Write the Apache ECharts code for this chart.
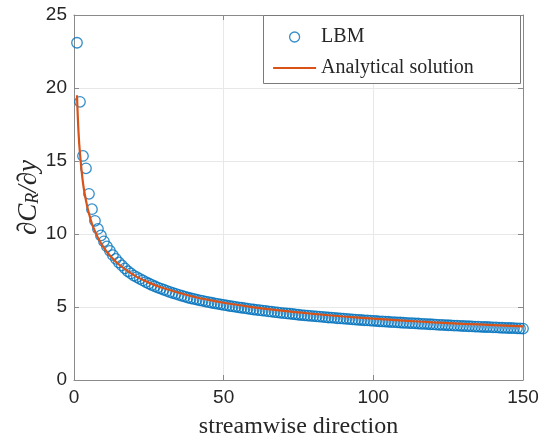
<!DOCTYPE html>
<html>
<head>
<meta charset="utf-8">
<script src="https://cdn.jsdelivr.net/npm/echarts@6/dist/echarts.min.js"></script>
<style>html,body{margin:0;padding:0;background:#fff;}#c{width:542px;height:444px;}</style>
</head>
<body>
<div id="c"></div>
<script>
// LBM samples at streamwise positions 1..150
const lbmX = Array.from({length:150}, (_, i) => i + 1);
const lbmY = [
23.1, 19.05, 15.35, 14.5, 12.75, 11.7, 10.9, 10.35, 9.9, 9.5,
9.15, 8.85, 8.55, 8.3, 8.05, 7.85, 7.65, 7.45, 7.3, 7.15,
7.05, 6.93, 6.82, 6.71, 6.61, 6.51, 6.42, 6.33, 6.26, 6.18,
6.10, 6.03, 5.96, 5.90, 5.83, 5.77, 5.71, 5.65, 5.60, 5.55,
5.51, 5.46, 5.42, 5.37, 5.33, 5.29, 5.25, 5.22, 5.18, 5.14,
5.11, 5.07, 5.04, 5.01, 4.98, 4.95, 4.92, 4.89, 4.86, 4.83,
4.80, 4.78, 4.75, 4.73, 4.70, 4.68, 4.65, 4.63, 4.60, 4.58,
4.56, 4.54, 4.52, 4.50, 4.47, 4.45, 4.43, 4.41, 4.39, 4.38,
4.36, 4.34, 4.32, 4.30, 4.28, 4.27, 4.25, 4.23, 4.22, 4.20,
4.19, 4.17, 4.15, 4.14, 4.12, 4.11, 4.09, 4.08, 4.07, 4.05,
4.04, 4.02, 4.01, 4.00, 3.99, 3.97, 3.96, 3.95, 3.94, 3.92,
3.91, 3.90, 3.89, 3.88, 3.87, 3.85, 3.84, 3.83, 3.82, 3.81,
3.79, 3.78, 3.77, 3.76, 3.75, 3.74, 3.73, 3.72, 3.71, 3.70,
3.69, 3.68, 3.67, 3.66, 3.65, 3.64, 3.63, 3.63, 3.62, 3.61,
3.60, 3.59, 3.58, 3.57, 3.56, 3.56, 3.55, 3.54, 3.53, 3.52
];
// Analytical solution
const anaX = [1, 1.5, 2, 3, 4, 5, 6, 7, 8, 10, 12, 15, 20, 25, 30, 40, 50, 60, 70, 80, 90, 100, 110, 120, 130, 140, 150];
const anaY = [19.5, 17.0, 15.5, 13.5, 12.3, 11.4, 10.7, 10.2, 9.75, 9.05, 8.52, 7.91, 7.18, 6.67, 6.28, 5.70, 5.29, 4.98, 4.73, 4.53, 4.35, 4.20, 4.07, 3.95, 3.85, 3.76, 3.67];
const xTicks = {min: 0, max: 150, interval: 50};
const yTicks = {min: 0, max: 25, interval: 5};

const blue = '#0072BD', orange = '#D95319', axisCol = '#8a8a8a', txt = '#262626';
const chart = echarts.init(document.getElementById('c'), null, {renderer: 'canvas'});
const tickFont = {fontFamily: 'Liberation Sans, Arial, sans-serif', fontSize: 19, color: txt};
function baseAxis(extra) {
  return Object.assign({
    type: 'value',
    axisLine: {show: true, onZero: false, lineStyle: {color: axisCol, width: 1}},
    axisTick: {show: true, inside: true, length: 5, lineStyle: {color: axisCol}},
    splitLine: {show: false},
    axisLabel: {show: false}
  }, extra);
}
chart.setOption({
  animation: false,
  backgroundColor: '#fff',
  grid: {left: 74, top: 15, right: 19, bottom: 61, show: false},
  xAxis: [
    baseAxis(Object.assign({}, xTicks, {
      position: 'bottom',
      splitLine: {show: true, lineStyle: {color: '#e8e8e8', width: 1}},
      axisLabel: Object.assign({show: true, margin: 8}, tickFont),
      name: 'streamwise direction', nameLocation: 'middle', nameGap: 35, nameMoveOverlap: false,
      nameTextStyle: {fontFamily: 'Liberation Serif, serif', fontSize: 24, color: txt}
    })),
    baseAxis(Object.assign({}, xTicks, {position: 'top'}))
  ],
  yAxis: [
    baseAxis(Object.assign({}, yTicks, {
      position: 'left',
      splitLine: {show: true, lineStyle: {color: '#e8e8e8', width: 1}},
      axisLabel: Object.assign({show: true, margin: 7}, tickFont),
      name: '{i|∂C}{s|R}{i|/∂y}', nameLocation: 'middle', nameGap: 32, nameRotate: 90, nameMoveOverlap: false,
      nameTextStyle: {
        color: txt,
        rich: {
          i: {fontFamily: 'Liberation Serif, serif', fontStyle: 'italic', fontSize: 27, color: txt},
          s: {fontFamily: 'Liberation Serif, serif', fontStyle: 'italic', fontSize: 18, color: txt, verticalAlign: 'bottom', padding: [9, 0, 0, 0]}
        }
      }
    })),
    baseAxis(Object.assign({}, yTicks, {position: 'right'}))
  ],
  legend: {
    left: 267, top: 22, orient: 'vertical',
    itemWidth: 43, itemHeight: 10, itemGap: 11,
    textStyle: {fontFamily: 'Liberation Serif, serif', fontSize: 20, color: txt},
    data: [
      {name: 'LBM', icon: 'circle', itemStyle: {color: 'rgba(0,0,0,0)', borderColor: blue, borderWidth: 1.3}},
      {name: 'Analytical solution', itemStyle: {opacity: 0}, lineStyle: {color: orange, width: 2.2}}
    ],
    z: 10
  },
  graphic: [{
    type: 'rect', left: 263, top: 15, z: 5,
    shape: {width: 257, height: 68},
    style: {fill: '#fff', stroke: '#7a7a7a', lineWidth: 1}
  }],
  series: [
    {
      name: 'LBM', type: 'scatter', xAxisIndex: 0, yAxisIndex: 0,
      symbol: 'circle', symbolSize: 10.5,
      itemStyle: {color: 'rgba(0,0,0,0)', borderColor: blue, borderWidth: 1.3},
      data: lbmX.map((x, i) => [x, lbmY[i]]), z: 2
    },
    {
      name: 'Analytical solution', type: 'line', xAxisIndex: 0, yAxisIndex: 0,
      symbol: 'none', showSymbol: false, smooth: 0.35, color: orange,
      lineStyle: {color: orange, width: 2.2},
      data: anaX.map((x, i) => [x, anaY[i]]), z: 3
    }
  ]
});
</script>
</body>
</html>
